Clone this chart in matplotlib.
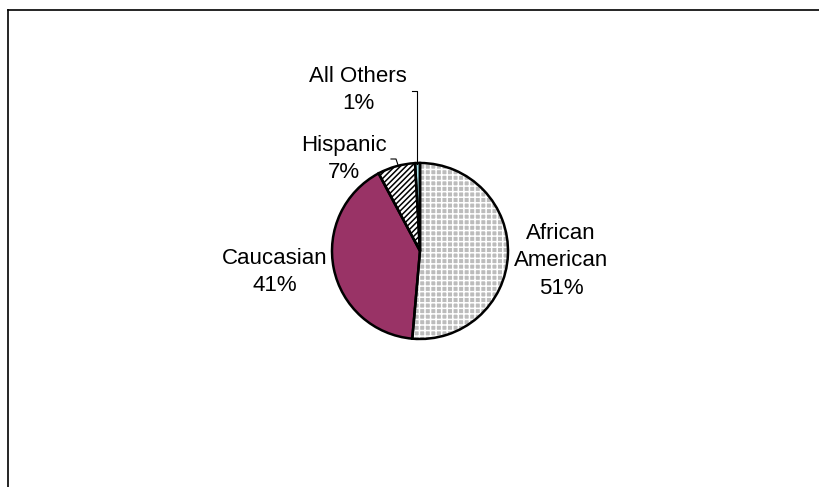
import matplotlib
matplotlib.use("Agg")
import matplotlib.pyplot as plt
from matplotlib.lines import Line2D

groups = ["African\nAmerican", "Caucasian", "Hispanic", "All Others"]
shares = [51.4, 40.8, 6.9, 0.9]
fills = ["#bcbcbc", "#993366", "white", "#a6e3ec"]
hatches = ["+++", None, "//////", None]
hatch_cols = ["white", "#993366", "black", "#a6e3ec"]

# label centres in pixels (x, y from top)
label_pos = [(561, 261), (275, 272), (344, 159), (358, 90)]

W, H = 820, 487
plt.rcParams["font.family"] = ["Liberation Sans", "DejaVu Sans"]
plt.rcParams["hatch.linewidth"] = 1.1

fig = plt.figure(figsize=(W / 100, H / 100), dpi=100)
ax = fig.add_axes([0, 0, 1, 1])

cx, cy, r = 420, H - 251, 88
# pattern layer
wedges, _ = ax.pie(shares, startangle=90, counterclock=False, colors=fills,
                   center=(cx, cy), radius=r, frame=True,
                   wedgeprops=dict(linewidth=0))
for w, h, hc in zip(wedges, hatches, hatch_cols):
    w.set_edgecolor(hc)
    if h:
        w.set_hatch(h)
# outlines
ax.pie(shares, startangle=90, counterclock=False, colors=["none"] * 4,
       center=(cx, cy), radius=r, frame=True,
       wedgeprops=dict(linewidth=1.8, edgecolor="black"))

for g, s, (lx, ly) in zip(groups, shares, label_pos):
    ax.text(lx, H - ly, f"{g}\n{s:.0f}%", ha="center", va="center",
            fontsize=16, linespacing=1.42)

# leader lines
ax.plot([412, 417, 417], [H - 91, H - 91, H - 164], color="black", lw=0.8)
ax.plot([391, 396, 398], [H - 159, H - 159, H - 165], color="black", lw=0.8)

ax.set_xlim(0, W)
ax.set_ylim(0, H)
ax.set_aspect("equal")
ax.axis("off")

# chart border (cropped at right and bottom)
fig.add_artist(Line2D([8 / W, 8 / W], [0, 1 - 10 / H], color="black", lw=1.2))
fig.add_artist(Line2D([8 / W, 1], [1 - 10 / H, 1 - 10 / H], color="black", lw=1.2))

fig.savefig("out.png", dpi=100)
